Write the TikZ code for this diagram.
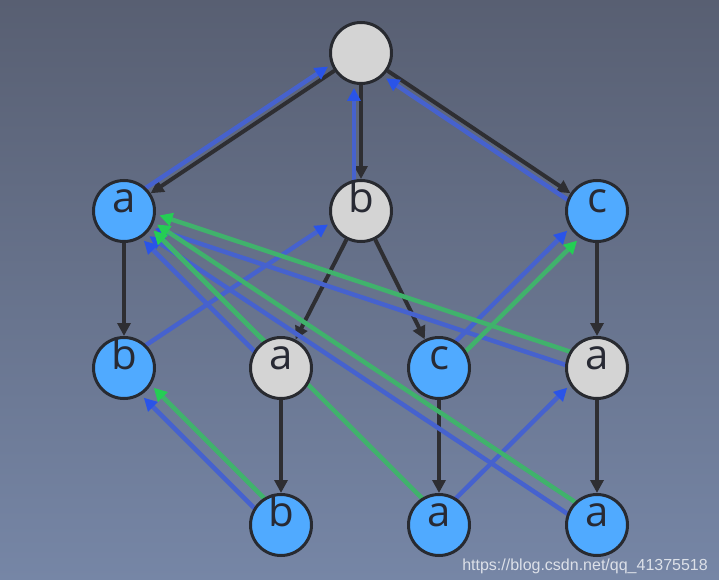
\documentclass[tikz,border=0pt]{standalone}
\usepackage{fontspec}
\newfontfamily\lettrfont{Open Sans}
\newfontfamily\wmfont{Liberation Sans}
\usetikzlibrary{arrows.meta,calc,backgrounds}
\definecolor{bgtop}{RGB}{88,95,114}
\definecolor{bgbot}{RGB}{118,134,166}
\definecolor{nodeblue}{RGB}{80,170,255}
\definecolor{nodegray}{RGB}{212,212,212}
\definecolor{nodeborder}{RGB}{40,42,48}
\definecolor{lettercol}{RGB}{40,42,52}
\definecolor{edgeblack}{RGB}{46,46,50}
\definecolor{blueline}{RGB}{70,98,206}
\definecolor{bluetip}{RGB}{42,84,232}
\definecolor{greenline}{RGB}{64,178,108}
\definecolor{greentip}{RGB}{36,206,84}
\newcommand\mkblue[2]{\draw[bluelk] ($(#1)!7pt!90:(#2)$) -- ($(#2)!7pt!-90:(#1)$);}
\newcommand\mkgreen[2]{\draw[greenlk] ($(#1)!7pt!-90:(#2)$) -- ($(#2)!7pt!90:(#1)$);}
\begin{document}
\begin{tikzpicture}[x=1pt,y=-1pt,
  st/.style={circle, draw=nodeborder, line width=3pt, minimum size=61pt, inner sep=0pt,
    text height=2pt, text depth=0pt, text=lettercol,
    font=\lettrfont\fontsize{42}{42}\selectfont},
  word/.style={st, fill=nodeblue},
  plain/.style={st, fill=nodegray},
  treeedge/.style={line width=4pt, draw=edgeblack, -{Triangle[length=13pt,width=13pt]}},
  bluelk/.style={line width=4.5pt, draw=blueline, shorten <=30pt, shorten >=35pt,
    -{Triangle[length=13pt,width=13pt,color=bluetip]}},
  greenlk/.style={line width=4.5pt, draw=greenline, shorten <=30pt, shorten >=35pt,
    -{Triangle[length=13pt,width=13pt,color=greentip]}},
  wm/.style={text=white, opacity=0.75, font=\wmfont\fontsize{16}{16}\selectfont, anchor=base east, inner sep=0pt}
]
\useasboundingbox (0,0) rectangle (719,580);
\node[plain] (root) at (361,53) {};
\node[word]  (A1) at (124,211) {a};
\node[plain] (B1) at (361,211) {b};
\node[word]  (C1) at (597,211) {c};
\node[word]  (B2) at (124,368) {b};
\node[plain] (A2) at (281,368) {a};
\node[word]  (C2) at (439,368) {c};
\node[plain] (A2r) at (597,368) {a};
\node[word]  (B3) at (281,525) {b};
\node[word]  (A3) at (439,525) {a};
\node[word]  (A3r) at (597,525) {a};
\node[wm] (mark) at (708,570) {https://blog.csdn.net/qq\_41375518};
\begin{scope}[on background layer]
\shade[top color=bgtop, bottom color=bgbot] (0,0) rectangle (719,580);
\draw[treeedge] (root) -- (A1);
\draw[treeedge] (root) -- (B1);
\draw[treeedge] (root) -- (C1);
\draw[treeedge] (A1) -- (B2);
\draw[treeedge] (B1) -- (A2);
\draw[treeedge] (B1) -- (C2);
\draw[treeedge] (C1) -- (A2r);
\draw[treeedge] (A2) -- (B3);
\draw[treeedge] (C2) -- (A3);
\draw[treeedge] (A2r) -- (A3r);
\mkblue{A1}{root}
\mkblue{B1}{root}
\mkblue{C1}{root}
\mkblue{B2}{B1}
\mkblue{A2}{A1}
\mkblue{C2}{C1}
\mkblue{A2r}{A1}
\mkblue{B3}{B2}
\mkblue{A3}{A2r}
\mkblue{A3r}{A1}
\mkgreen{A2}{A1}
\mkgreen{C2}{C1}
\mkgreen{A2r}{A1}
\mkgreen{B3}{B2}
\mkgreen{A3}{A1}
\mkgreen{A3r}{A1}
\end{scope}
\end{tikzpicture}
\end{document}
